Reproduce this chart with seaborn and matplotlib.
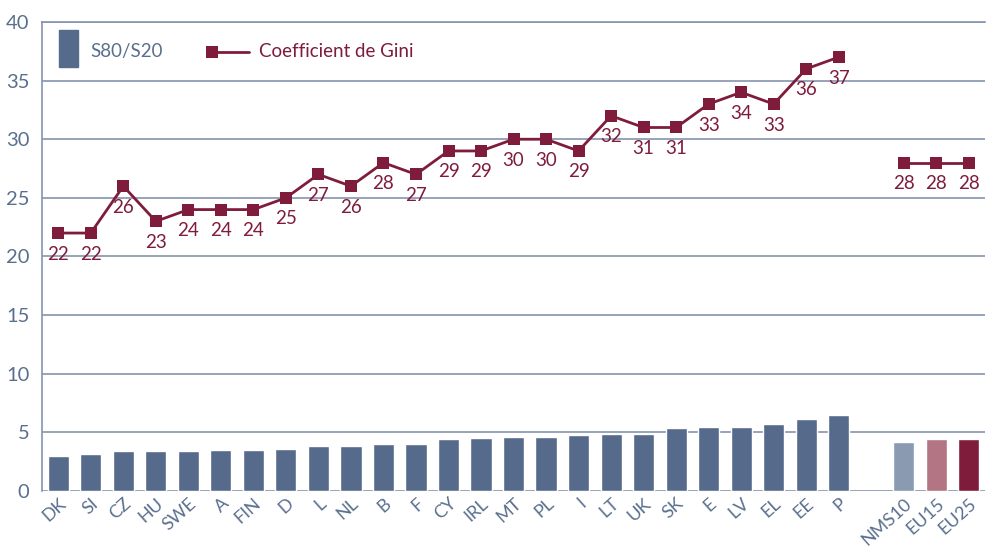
import numpy as np
import pandas as pd
import matplotlib
matplotlib.use("Agg")
import matplotlib.pyplot as plt
import seaborn as sns
from matplotlib.patches import Rectangle

countries = ["DK", "SI", "CZ", "HU", "SWE", "A", "FIN", "D", "L", "NL", "B", "F", "CY", "IRL",
             "MT", "PL", "I", "LT", "UK", "SK", "E", "LV", "EL", "EE", "P"]
s80_s20 = [3.0, 3.2, 3.4, 3.4, 3.4, 3.5, 3.5, 3.6, 3.8, 3.8, 4.0, 4.0, 4.4, 4.5,
           4.6, 4.6, 4.8, 4.9, 4.9, 5.4, 5.5, 5.5, 5.7, 6.1, 6.5]
gini = [22, 22, 26, 23, 24, 24, 24, 25, 27, 26, 28, 27, 29, 29,
        30, 30, 29, 32, 31, 31, 33, 34, 33, 36, 37]

aggregates = ["NMS10", "EU15", "EU25"]
s80_s20_agg = [4.2, 4.4, 4.4]
gini_agg = [28, 28, 28]

yticks = [0, 5, 10, 15, 20, 25, 30, 35, 40]

BAR = "#566b8b"
WINE = "#7f1c3b"
TXT = "#5a6f8e"
GRID = "#8594ad"

gap = " "
order = countries + [gap] + aggregates
df = pd.DataFrame({
    "cat": countries + aggregates,
    "s80": s80_s20 + s80_s20_agg,
    "gini": gini + gini_agg,
    "grp": ["countries"] * len(countries) + ["agg"] * len(aggregates),
})
colors = {c: BAR for c in countries}
colors.update({"NMS10": "#8a9ab1", "EU15": "#b37483", "EU25": WINE, gap: BAR})

sns.set_theme(style="white")
plt.rcParams["font.family"] = ["Lato", "DejaVu Sans"]

fig = plt.figure(figsize=(9.89, 5.49), dpi=100)
ax = fig.add_axes([0.0425, 0.1056, 0.9535, 0.8544])

sns.barplot(data=df, x="cat", y="s80", order=order, hue="cat", hue_order=order,
            palette=colors, width=0.65, legend=False, ax=ax, saturation=1, zorder=3)

pos = {c: i for i, c in enumerate(order)}
df["xpos"] = df["cat"].map(pos)
for g, sub in df.groupby("grp", sort=False):
    sns.lineplot(data=sub, x="xpos", y="gini", ax=ax, color=WINE, linewidth=2.0,
                 marker="s", markersize=8.5, markeredgewidth=0, estimator=None,
                 zorder=5, legend=False)
    for xp, v in zip(sub["xpos"], sub["gini"]):
        ax.annotate(f"{v:.0f}", (xp, v), xytext=(0, -9), textcoords="offset points",
                    ha="center", va="top", fontsize=13.5, color=WINE, zorder=6)

ax.set_xlim(-0.5, len(order) - 0.5)
ax.set_ylim(0, 40)
ax.set_yticks(yticks)
ax.set_yticklabels([str(t) for t in yticks], fontsize=14.5, color=TXT)
ax.yaxis.grid(True, color=GRID, linewidth=1.2, zorder=0)
ax.set_axisbelow(True)
ax.set_xlabel("")
ax.set_ylabel("")
ax.set_xticks(range(len(order)))
ax.set_xticklabels(order, rotation=42, ha="right", rotation_mode="anchor",
                   fontsize=13, color=TXT)
ax.tick_params(axis="y", length=0, pad=9)
ax.tick_params(axis="x", length=0, pad=3)
for s in ["right", "bottom"]:
    ax.spines[s].set_visible(False)
ax.spines["left"].set_color(GRID)
ax.spines["left"].set_linewidth(1.2)
ax.spines["top"].set_color(GRID)
ax.spines["top"].set_linewidth(1.2)

# legend
ax.add_patch(Rectangle((0.0175, 0.905), 0.021, 0.077, transform=ax.transAxes,
                       color=BAR, clip_on=False, zorder=7))
ax.text(0.051, 0.937, "S80/S20", transform=ax.transAxes, fontsize=13.5, color=TXT,
        va="center", ha="left")
ax.plot([0.180, 0.220], [0.937, 0.937], transform=ax.transAxes, color=WINE, linewidth=2.0)
ax.plot([0.180], [0.937], transform=ax.transAxes, color=WINE, marker="s",
        markersize=9, markeredgewidth=0)
ax.text(0.230, 0.937, "Coefficient de Gini", transform=ax.transAxes, fontsize=13.5,
        color=WINE, va="center", ha="left")

fig.savefig("out.png", dpi=100)
